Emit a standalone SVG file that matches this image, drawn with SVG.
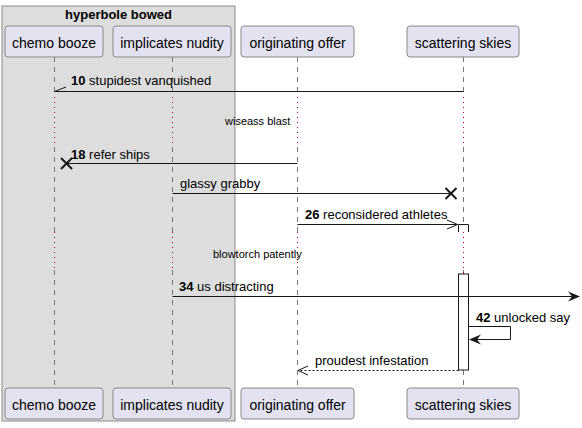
<svg xmlns="http://www.w3.org/2000/svg" width="582" height="428" viewBox="0 0 582 428">
<style>
text{font-family:"Liberation Sans",Arial,sans-serif;fill:#000}
.p rect{fill:#E2E2F0;stroke:#888;stroke-width:1}
.p text{font-size:14px;text-anchor:middle}
.m{font-size:13px}
.d{font-size:11px}
.ll{stroke:#777;stroke-width:1;stroke-dasharray:5 5}
.dl{stroke:#A80036;stroke-width:1;stroke-dasharray:1 4}
.a{stroke:#181818;stroke-width:1;fill:none}
.x{stroke:#181818;stroke-width:2}
</style>
<g id="group-hyperbole-bowed">
<rect x="2" y="6" width="233" height="415" fill="#DDDDDD" stroke="#888" stroke-width="1"/>
<text x="118.5" y="19" font-size="13" font-weight="bold" text-anchor="middle">hyperbole bowed</text>
</g>
<g id="lifelines">
<path class="ll" d="M54.5 57V97M54.5 147V232M54.5 270V388"/>
<path class="ll" d="M172.5 57V97M172.5 147V232M172.5 270V388"/>
<path class="ll" d="M297.5 57V97M297.5 147V232M297.5 270V388"/>
<path class="ll" d="M463.5 57V97M463.5 147V232M463.5 270V388"/>
<path class="dl" d="M54.5 97V147M172.5 97V147M297.5 97V147M463.5 97V147"/>
<path class="dl" d="M54.5 232V270M172.5 232V270M297.5 232V270M463.5 232V274"/>
</g>
<g id="activation">
<path d="M458.5 232V224.5H468.5V232" fill="#fff" stroke="#181818"/>
<rect x="458.5" y="274" width="10" height="96" fill="#fff" stroke="#181818"/>
</g>
<g id="p-chemo-booze" class="p">
<rect x="5" y="26" width="98" height="31" rx="3"/><text x="54" y="48">chemo booze</text>
<rect x="5" y="388" width="98" height="31" rx="3"/><text x="54" y="410">chemo booze</text>
</g>
<g id="p-implicates-nudity" class="p">
<rect x="113" y="26" width="118" height="31" rx="3"/><text x="172" y="48">implicates nudity</text>
<rect x="113" y="388" width="118" height="31" rx="3"/><text x="172" y="410">implicates nudity</text>
</g>
<g id="p-originating-offer" class="p">
<rect x="241" y="26" width="113" height="31" rx="3"/><text x="297.5" y="48">originating offer</text>
<rect x="241" y="388" width="113" height="31" rx="3"/><text x="297.5" y="410">originating offer</text>
</g>
<g id="p-scattering-skies" class="p">
<rect x="407" y="26" width="112" height="31" rx="3"/><text x="463" y="48">scattering skies</text>
<rect x="407" y="388" width="112" height="31" rx="3"/><text x="463" y="410">scattering skies</text>
</g>
<g id="connectors">
<path class="a" d="M463.5 91.5H54.5L66 87"/>
<text class="m" x="71" y="85"><tspan font-weight="bold">10</tspan> stupidest vanquished</text>
<text class="d" x="225" y="125">wiseass blast</text>
<path class="a" d="M297.5 163.5H66"/>
<path class="x" d="M61 158L72 169M72 158L61 169"/>
<text class="m" x="71" y="159"><tspan font-weight="bold">18</tspan> refer ships</text>
<path class="a" d="M172.5 193.5H451"/>
<path class="x" d="M445.5 188L456.5 199M456.5 188L445.5 199"/>
<text class="m" x="180" y="188">glassy grabby</text>
<path class="a" d="M297.5 224.5H457.5M447 220L457.5 224.5L447 229"/>
<text class="m" x="305" y="219"><tspan font-weight="bold">26</tspan> reconsidered athletes</text>
<text class="d" x="213" y="258">blowtorch patently</text>
<path class="a" d="M172.5 296.5H578"/>
<polygon points="580,296.5 568,291.5 572,296.5 568,301.5" fill="#181818"/>
<text class="m" x="179" y="291"><tspan font-weight="bold">34</tspan> us distracting</text>
<path class="a" d="M468.5 326.5H510.5V339.5H470"/>
<polygon points="469,339.5 481,334.5 477,339.5 481,344.5" fill="#181818"/>
<text class="m" x="476" y="322"><tspan font-weight="bold">42</tspan> unlocked say</text>
<path class="a" d="M458.5 370.5H298" stroke-dasharray="2 2"/>
<path class="a" d="M308 366L298 370.5L308 375"/>
<text class="m" x="315" y="365">proudest infestation</text>
</g>
</svg>
